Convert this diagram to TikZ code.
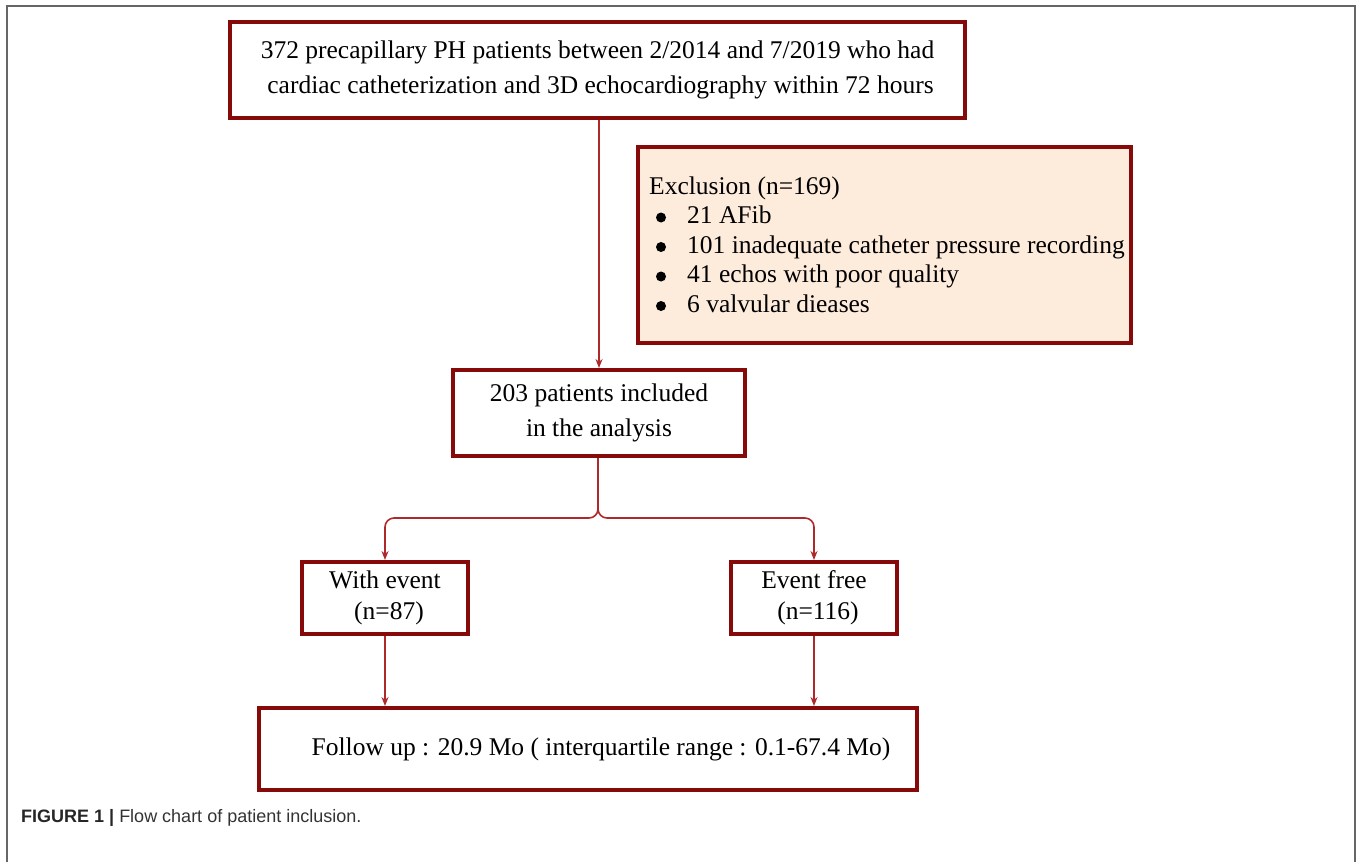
\documentclass[tikz,border=0pt]{standalone}
\usepackage{fontspec}
\setmainfont{Liberation Serif}
\newfontfamily\capfont{Liberation Sans}
\usetikzlibrary{arrows.meta}
\definecolor{boxred}{HTML}{860A0A}
\definecolor{linered}{HTML}{AE2A2A}
\definecolor{peach}{HTML}{FDEBDC}
\definecolor{framegray}{HTML}{666666}
\definecolor{captxt}{HTML}{333333}
\tikzset{
  flowbox/.style={draw=boxred, line width=4pt, align=center, inner sep=0pt,
    font=\fontsize{25.5}{35}\selectfont},
  smallbox/.style={flowbox, font=\fontsize{25.5}{31}\selectfont},
  itemtxt/.style={anchor=base west, inner sep=0pt, font=\fontsize{25.5}{30}\selectfont},
  bul/.style={circle, fill=black, inner sep=0pt, minimum size=10pt},
  conn/.style={draw=linered, line width=1.6pt, -{Stealth[length=9pt,width=7pt]}},
}
\begin{document}
\begin{tikzpicture}[x=1pt,y=-1pt]
\useasboundingbox (0,0) rectangle (1357,862);
% frame
\draw[framegray, line width=1.8pt] (7,862) -- (7,6) -- (1355,6) -- (1355,862);
% boxes
\node[flowbox, minimum width=735pt, minimum height=96pt] (top) at (597.5,70)
  {\raisebox{-2pt}{372 precapillary PH patients between 2/2014 and 7/2019 who had}\\
   \hspace*{6pt}\raisebox{-2pt}{cardiac catheterization and 3D echocardiography within 72 hours}};
\node[flowbox, fill=peach, minimum width=493pt, minimum height=196pt] (excl) at (884.5,245) {};
\node[itemtxt] (exhead) at (649,194) {Exclusion (n=169)};
\node[bul] (b1) at (661,217.5) {};
\node[itemtxt] (i1) at (687,223.5) {21 AFib};
\node[bul] (b2) at (661,247) {};
\node[itemtxt] (i2) at (687,253) {101 inadequate catheter pressure recording};
\node[bul] (b3) at (661,276.5) {};
\node[itemtxt] (i3) at (687,282.5) {41 echos with poor quality};
\node[bul] (b4) at (661,306) {};
\node[itemtxt] (i4) at (687,312) {6 valvular dieases};
\node[flowbox, minimum width=292pt, minimum height=86pt] (mid) at (599,413)
  {203 patients included\\ in the analysis};
\node[smallbox, minimum width=166pt, minimum height=72pt] (left) at (385,598)
  {With event\\ \hspace*{8pt}(n=87)};
\node[smallbox, minimum width=166pt, minimum height=72pt] (right) at (814,598)
  {Event free\\ \hspace*{8pt}(n=116)};
\node[flowbox, minimum width=658pt, minimum height=82pt] (bot) at (588,749)
  {\hspace*{26pt}Follow up : 20.9 Mo ( interquartile range : 0.1-67.4 Mo)};
% connectors
\coordinate (j) at (598,518);
\draw[conn] (top.south -| mid.north) -- (mid.north);
\draw[conn, rounded corners=9pt] (mid.south -| j) -- (j) -| (left.north);
\draw[conn, rounded corners=9pt] (mid.south -| j) -- (j) -| (right.north);
\draw[conn] (left.south) -- (left.south |- bot.north);
\draw[conn] (right.south) -- (right.south |- bot.north);
% caption
\node[anchor=base west, inner sep=0pt, font=\capfont\fontsize{18}{20}\selectfont, text=captxt] (cap) at (21,822)
  {\textbf{\color{black!85}FIGURE 1 |} Flow chart of patient inclusion.};
\end{tikzpicture}
\end{document}
